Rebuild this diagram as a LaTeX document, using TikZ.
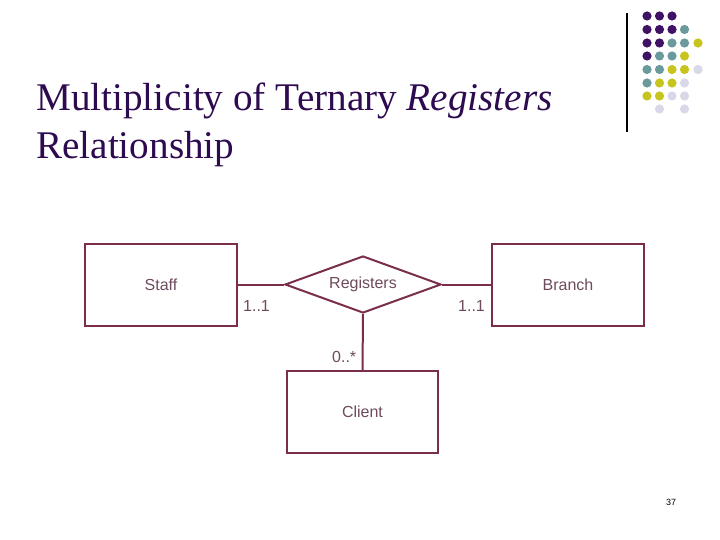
\documentclass[tikz,border=0pt]{standalone}
\usepackage{fontspec}
\setmainfont{Liberation Serif}
\newfontfamily\diagfont{Liberation Sans}
\usetikzlibrary{shapes.geometric}
\definecolor{titlecol}{HTML}{2E0B50}
\definecolor{linecol}{HTML}{7A2E4C}
\definecolor{txtcol}{HTML}{6E4B5E}
\definecolor{dpurple}{HTML}{3F1265}
\definecolor{dteal}{HTML}{6A9A9C}
\definecolor{dyellow}{HTML}{C8C41E}
\definecolor{dlav}{HTML}{D8D8E8}
\tikzset{
  entity/.style={draw=linecol, line width=2pt, rectangle, minimum width=152pt, minimum height=82pt, inner sep=0pt, font=\diagfont\fontsize{16}{18}\selectfont, text=txtcol},
  relation/.style={draw=linecol, line width=2pt, diamond, aspect=2.74, minimum width=156pt, minimum height=57pt, inner sep=0pt, font=\diagfont\fontsize{16}{18}\selectfont, text=txtcol},
  conn/.style={draw=linecol, line width=2pt},
  mult/.style={anchor=west, inner sep=0pt, font=\diagfont\fontsize{16}{18}\selectfont, text=txtcol},
  dot/.style={radius=4.6pt}
}
\begin{document}
\begin{tikzpicture}[x=1pt,y=-1pt]
\useasboundingbox[fill=white] (0,0) rectangle (720,540);
% title
\node[anchor=base west, inner sep=0pt, text=titlecol, font=\fontsize{39.2}{47}\selectfont] (t1) at (36,111) {Multiplicity of Ternary \textit{Registers}};
\node[anchor=base west, inner sep=0pt, text=titlecol, font=\fontsize{39.2}{47}\selectfont] (t2) at (36,159) {Relationship};
% decoration
\draw[black, line width=1.2pt] (627,13) -- (627,132);
\foreach \x/\y/\c in {
 647/16/dpurple, 659.5/16/dpurple, 672/16/dpurple,
 647/29.5/dpurple, 659.5/29.5/dpurple, 672/29.5/dpurple, 684.5/29.5/dteal,
 647/43/dpurple, 659.5/43/dpurple, 672/43/dteal, 684.5/43/dteal, 698/43/dyellow,
 647/56/dpurple, 659.5/56/dteal, 672/56/dteal, 684.5/56/dyellow,
 647/69.5/dteal, 659.5/69.5/dteal, 672/69.5/dyellow, 684.5/69.5/dyellow, 698/69.5/dlav,
 647/83/dteal, 659.5/83/dyellow, 672/83/dyellow, 684.5/83/dlav,
 647/96/dyellow, 659.5/96/dyellow, 672/96/dlav, 684.5/96/dlav,
 659.5/109/dlav, 684.5/109/dlav}
  \fill[\c] (\x,\y) circle[dot];
% diagram
\node[entity] (staff) at (161,284.5) {Staff};
\node[entity] (branch) at (568,284.5) {Branch};
\node[entity, minimum width=151pt] (client) at (362.5,412) {Client};
\node[relation] (reg) at (363,284.5) {Registers};
\draw[conn] (staff.east) -- (reg.west);
\draw[conn] (reg.east) -- (branch.west);
\draw[conn] (reg.south) -- (client.north);
\node[mult] (m1) at (243,306) {1..1};
\node[mult] (m2) at (458,306) {1..1};
\node[mult] (m3) at (332,357) {0..*};
\node[inner sep=0pt, font=\diagfont\fontsize{9}{10}\selectfont] (pg) at (671,502) {37};
\end{tikzpicture}
\end{document}
